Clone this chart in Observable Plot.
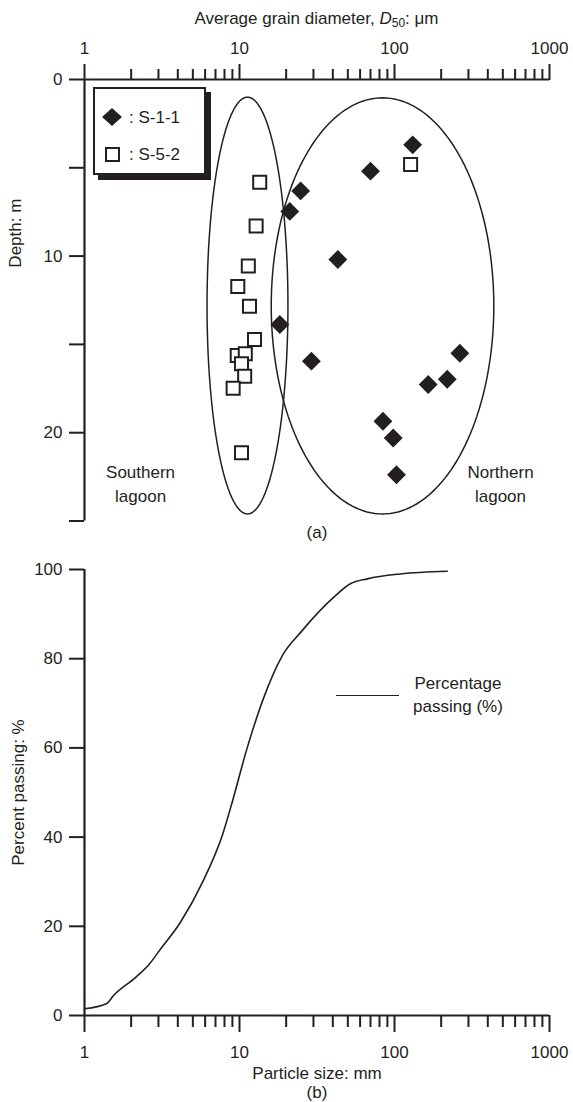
<!DOCTYPE html>
<html>
<head>
<meta charset="utf-8">
<script src="https://cdn.jsdelivr.net/npm/d3@7"></script>
<script src="https://cdn.jsdelivr.net/npm/@observablehq/plot@0.6"></script>
<style>
  body { margin: 0; background: #fff; font-family: "Liberation Sans", Arial, sans-serif; color: #231f20; }
  #wrap { position: relative; width: 573px; height: 1102px; }
  #wrap svg { display: block; }
  .abs { position: absolute; font-size: 17px; line-height: 1; }
</style>
</head>
<body>
<div id="wrap"></div>
<script>
// ---------- data ----------
const majorTicks = [1, 10, 100, 1000];
const minorTicks = [2,3,4,5,6,7,8,9,20,30,40,50,60,70,80,90,200,300,400,500,600,700,800,900];
const depthTicks = [0, 5, 10, 15, 20, 25];
const percentTicks = [0, 20, 40, 60, 80, 100];

// S-1-1 (filled diamonds): D50 (µm), depth (m)
const s11D50  = [131, 70, 24.8, 21.1, 43.1, 18.2, 29.1, 264, 219, 165, 84.2, 98.1, 103];
const s11Depth = [3.70, 5.19, 6.31, 7.47, 10.19, 13.87, 15.95, 15.50, 16.97, 17.27, 19.35, 20.30, 22.38];
// S-5-2 (open squares)
const s52D50  = [127, 13.5, 12.8, 11.4, 9.75, 11.6, 12.5, 9.67, 10.9, 10.3, 10.8, 9.10, 10.3];
const s52Depth = [4.81, 5.82, 8.30, 10.56, 11.72, 12.84, 14.72, 15.63, 15.53, 16.10, 16.80, 17.48, 21.14];

// lagoon ellipses (centre in data units, half-width in log decades, half-height in m)
const southEllipse = {cx: 11.26, cy: 12.8, rxDecades: 0.261, ry: 11.8};
const northEllipse = {cx: 83.7, cy: 12.82, rxDecades: 0.718, ry: 11.78};

// grain size distribution (b)
const particleSize = [1, 1.39, 1.54, 2.13, 2.59, 3.05, 4.16, 5.85, 7.78, 9.0, 11.1, 14.1, 18.9, 24.8, 40.6, 51.9, 66.8, 109, 219];
const percentPassing = [1.5, 2.7, 4.5, 8.5, 11.3, 14.6, 20.9, 30.3, 40.6, 48, 59.5, 70.6, 80.7, 85.9, 93.8, 96.8, 97.9, 99.0, 99.6];

// ---------- build ----------
const ink = "#231f20";
const font = "Liberation Sans, Arial, sans-serif";
const fs = 17;

const s11 = s11D50.map((d, i) => ({d50: d, depth: s11Depth[i]}));
const s52 = s52D50.map((d, i) => ({d50: d, depth: s52Depth[i]}));
function ellipsePts(e) {
  const lc = Math.log10(e.cx);
  return d3.range(0, 361, 2).map(a => {
    const t = a * Math.PI / 180;
    return {x: Math.pow(10, lc + e.rxDecades * Math.cos(t)), y: e.cy + e.ry * Math.sin(t)};
  });
}
const curve = particleSize.map((s, i) => ({s, p: percentPassing[i]}));

const plotA = Plot.plot({
  width: 573, height: 550,
  marginTop: 79, marginBottom: 29.5, marginLeft: 84, marginRight: 24,
  style: {fontSize: fs + "px", fontFamily: font, color: ink, background: "transparent"},
  x: {type: "log", domain: [1, 1000]},
  y: {domain: [0, 25], reverse: true},
  marks: [
    Plot.axisX({anchor: "top", ticks: minorTicks, tickSize: 11, tickFormat: () => "", strokeWidth: 2, label: null}),
    Plot.axisX({anchor: "top", ticks: majorTicks, tickSize: 16, tickPadding: 10, tickFormat: d => String(d), strokeWidth: 2, fill: ink, fontSize: fs, label: null}),
    Plot.axisY({ticks: depthTicks, tickSize: 15, tickPadding: 7, tickFormat: d => d % 10 === 0 ? String(d) : "", strokeWidth: 2, fill: ink, fontSize: fs, label: null}),
    Plot.ruleY([0], {stroke: ink, strokeWidth: 2.2}),
    Plot.ruleX([1], {stroke: ink, strokeWidth: 2.2}),
    Plot.line(ellipsePts(southEllipse), {x: "x", y: "y", stroke: ink, strokeWidth: 1.5}),
    Plot.line(ellipsePts(northEllipse), {x: "x", y: "y", stroke: ink, strokeWidth: 1.5}),
    Plot.dot(s11, {x: "d50", y: "depth", symbol: "diamond2", r: 8.5, fill: ink, stroke: "none"}),
    Plot.dot(s52, {x: "d50", y: "depth", symbol: "square2", r: 8.3, fill: "white", stroke: ink, strokeWidth: 2}),
    Plot.text(["Southern\nlagoon"], {x: 2.3, y: 22.8, lineHeight: 1.4, fill: ink, fontSize: fs}),
    Plot.text(["Northern\nlagoon"], {x: 483, y: 22.8, lineHeight: 1.4, fill: ink, fontSize: fs}),
    Plot.text(["Depth: m"], {frameAnchor: "left", textAnchor: "middle", dx: -69, y: 8.7, rotate: -90, fill: ink, fontSize: fs}),
    Plot.text(["(a)"], {frameAnchor: "bottom", dy: 16.5, fill: ink, fontSize: fs})
  ]
});

const plotB = Plot.plot({
  width: 573, height: 552,
  marginTop: 19, marginBottom: 87, marginLeft: 84, marginRight: 24,
  style: {fontSize: fs + "px", fontFamily: font, color: ink, background: "transparent"},
  x: {type: "log", domain: [1, 1000]},
  y: {domain: [0, 100]},
  marks: [
    Plot.axisX({ticks: minorTicks, tickSize: 12, tickFormat: () => "", strokeWidth: 2, label: null}),
    Plot.axisX({ticks: majorTicks, tickSize: 17, tickPadding: 13, tickFormat: d => String(d), strokeWidth: 2, fill: ink, fontSize: fs, label: null}),
    Plot.axisY({ticks: percentTicks, tickSize: 15, tickPadding: 7, strokeWidth: 2, fill: ink, fontSize: fs, label: null}),
    Plot.ruleY([0], {stroke: ink, strokeWidth: 2.2}),
    Plot.ruleX([1], {stroke: ink, strokeWidth: 2.2}),
    Plot.line(curve, {x: "s", y: "p", stroke: ink, strokeWidth: 1.6, curve: "monotone-x"}),
    Plot.text(["Percent passing: %"], {frameAnchor: "left", textAnchor: "middle", dx: -66, y: 50, rotate: -90, fill: ink, fontSize: fs}),
    Plot.text(["Particle size: mm"], {frameAnchor: "bottom", dy: 63, fill: ink, fontSize: fs}),
    Plot.text(["(b)"], {frameAnchor: "bottom", dy: 82, fill: ink, fontSize: fs})
  ]
});

const wrap = document.getElementById("wrap");
wrap.appendChild(plotA);
wrap.appendChild(plotB);

// title above chart (a)
const title = document.createElement("div");
title.className = "abs";
title.style.cssText = "left:84px;width:465px;top:10px;text-align:center;";
title.innerHTML = 'Average grain diameter, <i>D</i><sub style="font-size:12px;vertical-align:-3px;">50</sub>: μm';
wrap.appendChild(title);

// legend for chart (a)
const leg = document.createElement("div");
leg.className = "abs";
leg.style.cssText = `left:93px;top:87px;width:109px;height:84px;border:2px solid ${ink};background:#fff;box-shadow:5px 5px 0 0 ${ink};`;
leg.innerHTML = `
  <svg width="22" height="20" style="position:absolute;left:6px;top:18px"><path d="M11,1 L21,10 L11,19 L1,10 Z" fill="${ink}"/></svg>
  <div style="position:absolute;left:34px;top:20px;white-space:nowrap">: S-1-1</div>
  <svg width="18" height="18" style="position:absolute;left:9px;top:57px"><rect x="2" y="2" width="13" height="13" fill="#fff" stroke="${ink}" stroke-width="2"/></svg>
  <div style="position:absolute;left:34px;top:57px;white-space:nowrap">: S-5-2</div>`;
wrap.appendChild(leg);

// legend for chart (b)
const legB = document.createElement("div");
legB.className = "abs";
legB.style.cssText = "left:336px;top:672px;";
legB.innerHTML = `
  <div style="position:absolute;left:0;top:23px;width:63px;border-top:1.6px solid ${ink};"></div>
  <div style="position:absolute;left:66px;top:0px;width:112px;text-align:center;line-height:23px;white-space:nowrap">Percentage<br>passing (%)</div>`;
wrap.appendChild(legB);
</script>
</body>
</html>
